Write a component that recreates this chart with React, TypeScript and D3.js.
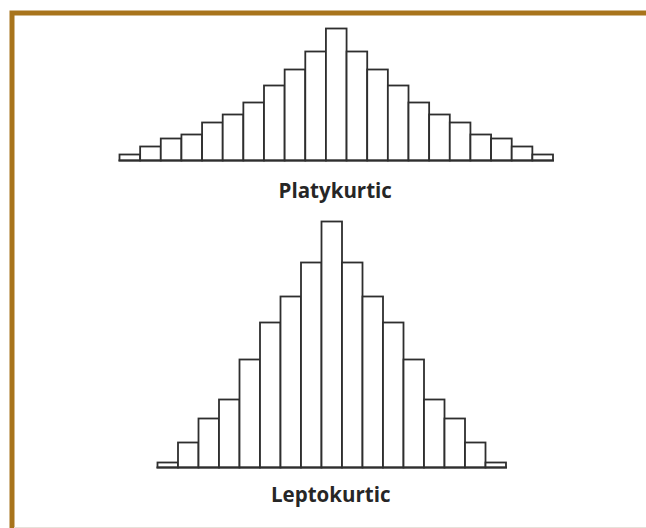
import * as d3 from "d3";

// bin heights (counts), left to right
const platyCounts = [6, 14, 22, 26, 38, 46, 58, 75, 91, 109, 132, 109, 91, 75, 58, 46, 38, 26, 22, 14, 6];
const leptoCounts = [5, 25, 49, 68, 108, 145, 171, 205, 246, 205, 171, 145, 108, 68, 49, 25, 5];
const titles = ["Platykurtic", "Leptokurtic"];

const W = 646;
const H = 528;
const BORDER = "#a8741c";
const INK = "#2e2e2e";

type Panel = { counts: number[]; x0: number; x1: number; base: number; label: string; labelY: number };

const panels: Panel[] = [
  { counts: platyCounts, x0: 119.5, x1: 553, base: 160.5, label: titles[0], labelY: 198 },
  { counts: leptoCounts, x0: 157.5, x1: 506, base: 467.5, label: titles[1], labelY: 502 },
];

// same vertical scale for both: one count is one pixel
const y = d3.scaleLinear().domain([0, 250]).range([0, 250]);

function Histogram({ p }: { p: Panel }) {
  const x = d3
    .scaleBand<number>()
    .domain(d3.range(p.counts.length))
    .range([p.x0, p.x1])
    .padding(0);

  return (
    <g>
      {p.counts.map((c, i) => (
        <rect
          key={i}
          x={x(i)}
          y={p.base - y(c)}
          width={x.bandwidth()}
          height={y(c)}
          fill="#fff"
          stroke={INK}
          strokeWidth={1.8}
        />
      ))}
      <line x1={p.x0 - 1} x2={p.x1 + 1} y1={p.base} y2={p.base} stroke={INK} strokeWidth={2} />
      <text
        x={(p.x0 + p.x1) / 2 - 1}
        y={p.labelY}
        textAnchor="middle"
        fontFamily="'Open Sans', sans-serif"
        fontWeight="bold"
        fontSize={20.5}
        fill="#262626"
      >
        {p.label}
      </text>
    </g>
  );
}

export default function App() {
  return (
    <svg
      width={W}
      height={H}
      style={{ position: "absolute", left: 0, top: 0, background: "#fff" }}
    >
      <rect width={W} height={H} fill="#fff" />
      {/* frame: only top and left edges */}
      <path d={`M12,${H} V13 H${W}`} fill="none" stroke={BORDER} strokeWidth={5} />
      <line x1={14} x2={W} y1={H - 0.5} y2={H - 0.5} stroke="#e6e2da" strokeWidth={1} />
      {panels.map((p) => (
        <Histogram key={p.label} p={p} />
      ))}
    </svg>
  );
}
